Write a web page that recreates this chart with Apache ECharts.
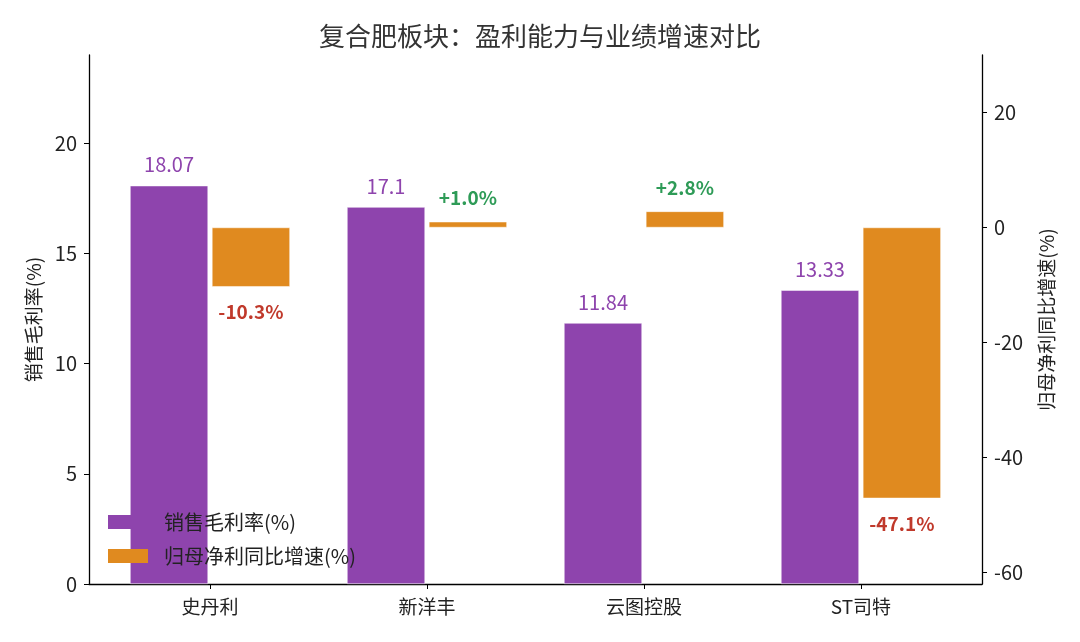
<!DOCTYPE html>
<html>
<head>
<meta charset="utf-8">
<script src="https://cdn.jsdelivr.net/npm/echarts@6/dist/echarts.min.js"></script>
<style>
  html, body { margin: 0; padding: 0; background: #fff; }
  #main { width: 1080px; height: 642px; }
</style>
</head>
<body>
<div id="main"></div>
<script>
// 数据
var companies = ['史丹利', '新洋丰', '云图控股', 'ST司特'];
var grossMargin = [18.07, 17.1, 11.84, 13.33];   // 销售毛利率(%)
var profitGrowth = [-10.3, 1.0, 2.8, -47.1];     // 归母净利同比增速(%)
var leftTicks = [0, 5, 10, 15, 20];
var rightTicks = [-60, -40, -20, 0, 20];
var catPos = [0, 1, 2, 3];

var font = 'Noto Sans CJK SC';
var purple = '#8E44AD';
var orange = '#E08A1F';

var myChart = echarts.init(document.getElementById('main'));

var marginData = [];
var growthData = [];
for (let i = 0; i < companies.length; i++) {
    marginData.push([i, grossMargin[i]]);
    var v = profitGrowth[i];
    growthData.push({
        value: [i, v],
        label: {
            position: v >= 0 ? 'top' : 'bottom',
            distance: v >= 0 ? 14 : 16,
            color: v >= 0 ? '#2E9B57' : '#C0392B',
            formatter: (v >= 0 ? '+' : '') + v.toFixed(1) + '%'
        }
    });
}

var option = {
    backgroundColor: '#fff',
    textStyle: { fontFamily: font },
    title: {
        text: '复合肥板块：盈利能力与业绩增速对比',
        left: 'center',
        top: 18,
        textStyle: { fontSize: 26, fontWeight: 'normal', color: '#333', fontFamily: font }
    },
    legend: {
        orient: 'vertical',
        left: 103,
        top: 507,
        itemWidth: 40,
        itemHeight: 14,
        itemGap: 14,
        icon: 'rect',
        itemStyle: { borderWidth: 0 },
        data: ['销售毛利率(%)', '归母净利同比增速(%)'],
        textStyle: { fontSize: 20, color: '#222', fontFamily: font, padding: [0, 0, 0, 11] }
    },
    grid: { left: 89, right: 98, top: 55, bottom: 58 },
    xAxis: {
        type: 'value',
        min: -0.5576,
        max: 3.558,
        splitLine: { show: false },
        axisLine: { onZero: false, lineStyle: { color: '#000', width: 1.3 } },
        axisTick: { show: true, customValues: catPos, length: 5, lineStyle: { color: '#000' } },
        axisLabel: {
            customValues: catPos,
            formatter: function (val) { return companies[Math.round(val)]; },
            fontSize: 19, color: '#222', margin: 13, fontFamily: font
        }
    },
    yAxis: [
        {
            type: 'value',
            min: 0,
            max: 24,
            name: '销售毛利率(%)',
            nameLocation: 'middle',
            nameRotate: 90,
            nameGap: 46,
            nameTextStyle: { fontSize: 19, color: '#222', fontFamily: font },
            splitLine: { show: false },
            axisLine: { show: true, onZero: false, lineStyle: { color: '#000', width: 1.3 } },
            axisTick: { show: true, customValues: leftTicks, length: 5, lineStyle: { color: '#000' } },
            axisLabel: { customValues: leftTicks, fontSize: 20, color: '#222', margin: 12 }
        },
        {
            type: 'value',
            min: -62,
            max: 30,
            position: 'right',
            name: '归母净利同比增速(%)',
            nameLocation: 'middle',
            nameRotate: 90,
            nameGap: 55,
            nameTextStyle: { fontSize: 19, color: '#222', fontFamily: font },
            splitLine: { show: false },
            axisLine: { show: true, onZero: false, lineStyle: { color: '#000', width: 1.3 } },
            axisTick: { show: true, customValues: rightTicks, length: 5, lineStyle: { color: '#000' } },
            axisLabel: { customValues: rightTicks, fontSize: 20, color: '#222', margin: 12 }
        }
    ],
    series: [
        {
            name: '销售毛利率(%)',
            type: 'bar',
            yAxisIndex: 0,
            barWidth: 78,
            barGap: '5%',
            data: marginData,
            itemStyle: { color: purple, borderColor: '#fff', borderWidth: 0.5 },
            label: {
                show: true,
                position: 'top',
                distance: 11,
                fontSize: 20,
                color: purple,
                fontFamily: font
            }
        },
        {
            name: '归母净利同比增速(%)',
            type: 'bar',
            yAxisIndex: 1,
            barWidth: 78,
            barGap: '5%',
            data: growthData,
            itemStyle: { color: orange, borderColor: '#fff', borderWidth: 0.5 },
            label: {
                show: true,
                fontSize: 19,
                fontWeight: 'bold',
                fontFamily: font
            }
        }
    ]
};

myChart.setOption(option);
</script>
</body>
</html>
